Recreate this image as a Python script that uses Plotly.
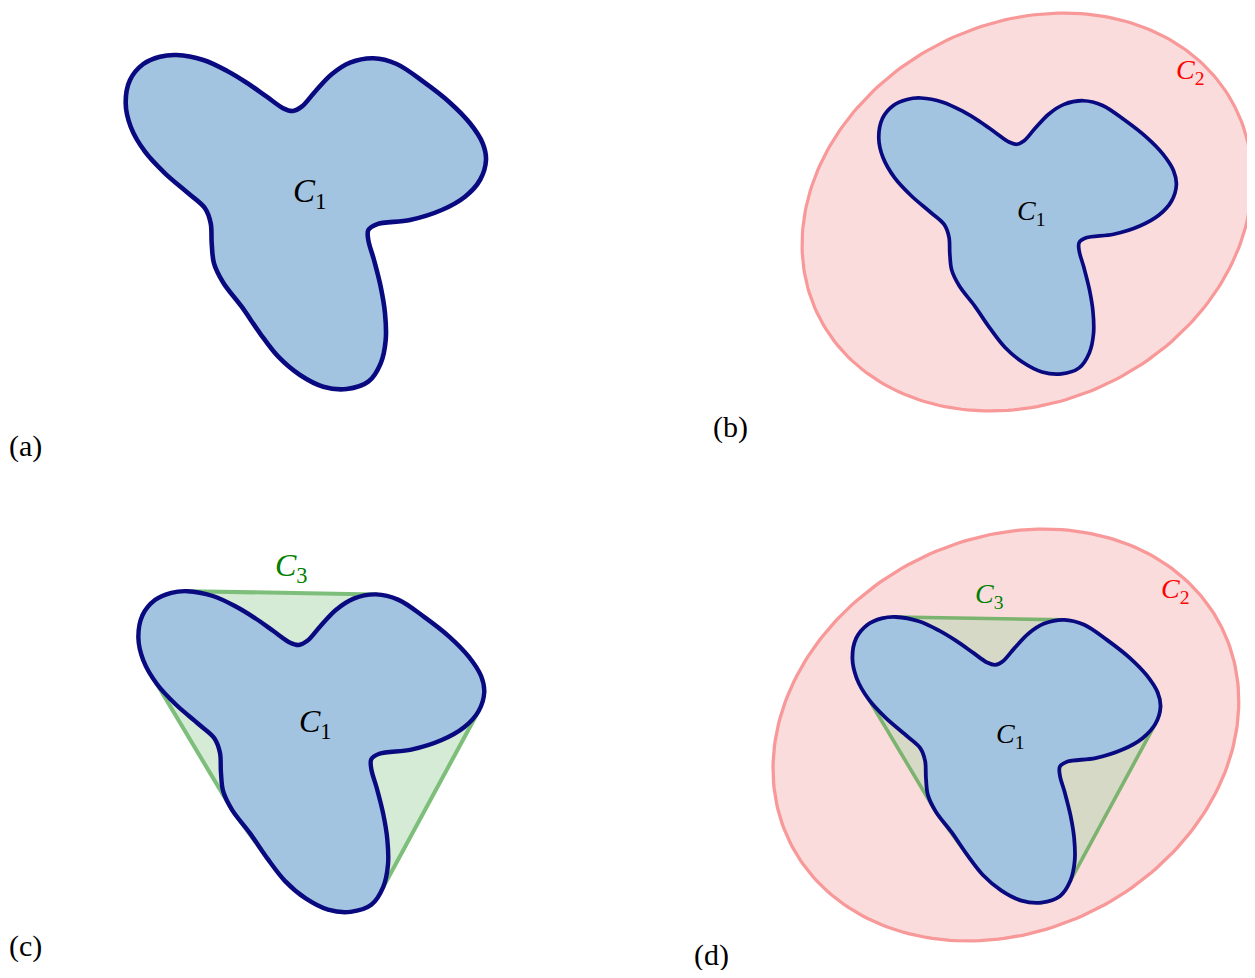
import numpy as np
import plotly.graph_objects as go

# ---- data (model units: pixels of panel (a), origin at the C1 label, y up) ----
blob_x = [-184.3, -180.0, -166.7, -150.0, -133.3, -106.7, -83.3, -63.3, -43.3, -26.7,
          -17.3, -8.3, 5.0, 21.7, 40.0, 63.3, 86.7, 113.3, 140.0, 160.0,
          172.7, 176.0, 170.0, 155.0, 131.7, 100.0, 66.7, 58.3, 58.3, 64.0,
          70.7, 75.0, 75.7, 70.7, 58.3, 36.7, 13.3, -10.0, -31.7, -50.0,
          -68.3, -86.7, -96.0, -98.3, -99.3, -105.0, -121.7, -145.0, -165.0, -179.3]
blob_y = [89.7, 113.0, 129.0, 136.3, 138.0, 133.0, 122.3, 110.3, 96.3, 84.7,
          82.0, 86.3, 101.3, 118.7, 130.3, 134.7, 129.0, 111.3, 90.3, 69.7,
          49.7, 33.0, 13.0, -3.7, -17.0, -27.0, -31.3, -37.0, -47.0, -67.0,
          -93.7, -120.3, -147.0, -170.3, -188.7, -196.0, -193.7, -182.0, -163.7, -140.3,
          -113.7, -89.7, -70.3, -50.3, -30.3, -15.3, -0.3, 19.7, 41.3, 66.3]

# C2: tilted ellipse (centre, semi-axes, tilt)
c2_center = [-4.8, 0.0]
c2_semi_axes = [282.0, 229.5]
c2_tilt_deg = 26.5

label_names = ["C1", "C2", "C3"]
label_x = [0.0, 192.5, -24.5]
label_y = [0.0, 169.5, 163.0]

panel_names = ["(a)", "(b)", "(c)", "(d)"]

# ---- layout ----
W, H = 1255, 978
OFF = 8  # page margin of the browser
FW, FH = W - 2 * OFF, H - 2 * OFF

BLUE_FILL = "#a3c4e1"
BLUE_LINE = "#0a0a80"
PINK_FILL = "#fadcdc"
PINK_LINE = "#f89898"
GREEN_FILL_WHITE = "#d6ebd5"
GREEN_FILL_PINK = "#d5d9c6"
GREEN_LINE_WHITE = "#7dbf7a"
GREEN_LINE_PINK = "#7cb36f"

panels = [
    dict(name=panel_names[0], ox=310.0, oy=193.0, s=1.0, c2=False, c3=False, fs=33, lw=4.6,
         lab=(25, 446)),
    dict(name=panel_names[1], ox=1031.0, oy=212.0, s=0.826, c2=True, c3=False, fs=28, lw=3.7,
         lab=(730, 427)),
    dict(name=panel_names[2], ox=315.3, oy=723.7, s=0.96, c2=False, c3=True, fs=32, lw=4.4,
         lab=(25, 946)),
    dict(name=panel_names[3], ox=1010.0, oy=735.0, s=0.855, c2=True, c3=True, fs=28, lw=3.8,
         lab=(711, 955)),
]


def convex_hull(xs, ys):
    pts = sorted(set(zip(xs, ys)))

    def cross(o, a, b):
        return (a[0] - o[0]) * (b[1] - o[1]) - (a[1] - o[1]) * (b[0] - o[0])

    lower, upper = [], []
    for p in pts:
        while len(lower) >= 2 and cross(lower[-2], lower[-1], p) <= 0:
            lower.pop()
        lower.append(p)
    for p in reversed(pts):
        while len(upper) >= 2 and cross(upper[-2], upper[-1], p) <= 0:
            upper.pop()
        upper.append(p)
    h = lower[:-1] + upper[:-1]
    return [p[0] for p in h], [p[1] for p in h]


hull_x, hull_y = convex_hull(blob_x, blob_y)

# ellipse outline from its parameters
_t = np.linspace(0, 2 * np.pi, 241)
_th = np.radians(c2_tilt_deg)
_u = c2_semi_axes[0] * np.cos(_t)
_v = c2_semi_axes[1] * np.sin(_t)
ell_x = c2_center[0] + _u * np.cos(_th) - _v * np.sin(_th)
ell_y = c2_center[1] + _u * np.sin(_th) + _v * np.cos(_th)


def closed(xs, ys):
    return list(xs) + [xs[0]], list(ys) + [ys[0]]


fig = go.Figure()
annotations = []
layout_axes = {}
serif = "Liberation Serif, Times New Roman, serif"

for i, p in enumerate(panels):
    sfx = "" if i == 0 else str(i + 1)
    xr, yr = "x" + sfx, "y" + sfx
    s = p["s"]
    ox, oy = p["ox"] - OFF, p["oy"] - OFF
    if p["c2"]:
        fig.add_trace(go.Scatter(x=ell_x, y=ell_y, mode="lines", fill="toself",
                                 fillcolor=PINK_FILL,
                                 line=dict(color=PINK_LINE, width=3.2 * s / 0.83),
                                 xaxis=xr, yaxis=yr, hoverinfo="skip", showlegend=False))
    if p["c3"]:
        hx, hy = closed(hull_x, hull_y)
        fig.add_trace(go.Scatter(x=hx, y=hy, mode="lines", fill="toself",
                                 fillcolor=GREEN_FILL_PINK if p["c2"] else GREEN_FILL_WHITE,
                                 line=dict(color=GREEN_LINE_PINK if p["c2"] else GREEN_LINE_WHITE,
                                           width=4.2 * s),
                                 xaxis=xr, yaxis=yr, hoverinfo="skip", showlegend=False))
    bx, by = closed(blob_x, blob_y)
    fig.add_trace(go.Scatter(x=bx, y=by, mode="lines", fill="toself",
                             fillcolor=BLUE_FILL,
                             line=dict(color=BLUE_LINE, width=p["lw"], shape="spline", smoothing=1.0),
                             xaxis=xr, yaxis=yr, hoverinfo="skip", showlegend=False))

    # labels
    annotations.append(dict(x=label_x[0], y=label_y[0], xref=xr, yref=yr,
                            text="<i>C</i><sub>1</sub>", showarrow=False,
                            font=dict(family=serif, size=p["fs"], color="black")))
    if p["c2"]:
        annotations.append(dict(x=label_x[1], y=label_y[1], xref=xr, yref=yr,
                                text="<i>C</i><sub>2</sub>", showarrow=False,
                                font=dict(family=serif, size=p["fs"], color="red")))
    if p["c3"]:
        annotations.append(dict(x=label_x[2], y=label_y[2], xref=xr, yref=yr,
                                text="<i>C</i><sub>3</sub>", showarrow=False,
                                font=dict(family=serif, size=p["fs"], color="green")))
    annotations.append(dict(x=(p["lab"][0] - OFF) / FW, y=1 - (p["lab"][1] - OFF) / FH,
                            xref="paper", yref="paper", xanchor="center", yanchor="middle",
                            text=p["name"], showarrow=False,
                            font=dict(family=serif, size=30, color="black")))

    layout_axes["xaxis" + sfx] = dict(domain=[0, 1], range=[-ox / s, (FW - ox) / s],
                                      visible=False, fixedrange=True, anchor=yr)
    layout_axes["yaxis" + sfx] = dict(domain=[0, 1], range=[(oy - FH) / s, oy / s],
                                      visible=False, fixedrange=True, anchor=xr)

fig.update_layout(width=FW, height=FH, margin=dict(l=0, r=0, t=0, b=0),
                  paper_bgcolor="white", plot_bgcolor="rgba(0,0,0,0)",
                  showlegend=False, annotations=annotations, **layout_axes)

fig.write_html("out.html")
